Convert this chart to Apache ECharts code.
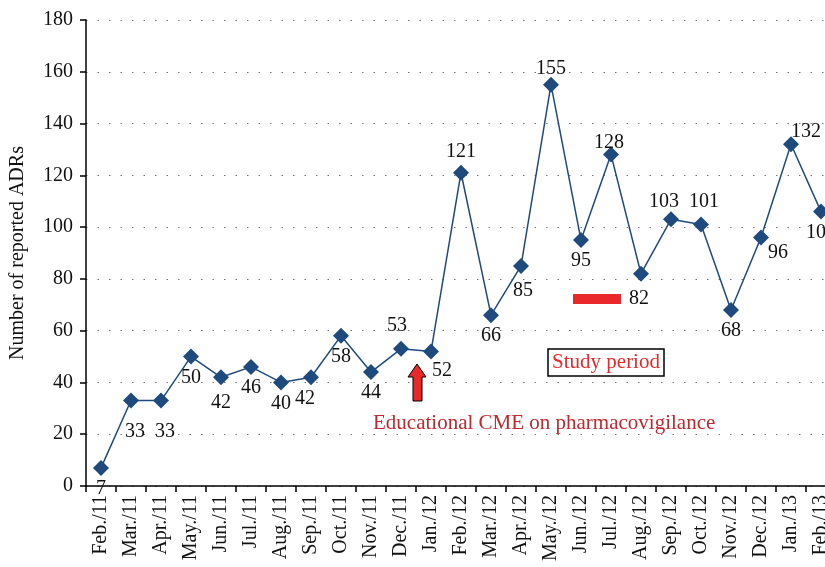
<!DOCTYPE html>
<html lang="en">
    <head>
        <meta charset="UTF-8">
        <title>Reported ADRs</title>
        <style>
            html, body { margin: 0; padding: 0; background: #fff; overflow: hidden; width: 825px; height: 567px; }
        </style>
    </head>
    <body>
        <div id="main" style="width: 845px;height:567px;"></div>
        <script src="https://cdn.jsdelivr.net/npm/echarts@6/dist/echarts.min.js"></script>
        <script type="text/javascript">
            // monthly reports
            const months = ['Feb./11','Mar./11','Apr./11','May./11','Jun./11','Jul./11','Aug./11','Sep./11','Oct./11','Nov./11','Dec./11',
                            'Jan./12','Feb./12','Mar./12','Apr./12','May./12','Jun./12','Jul./12','Aug./12','Sep./12','Oct./12','Nov./12','Dec./12',
                            'Jan./13','Feb./13']
            const adrs = [7,33,33,50,42,46,40,42,58,44,53,52,121,66,85,155,95,128,82,103,101,68,96,132,106]
            const yTicks = [0,20,40,60,80,100,120,140,160,180]

            // where each value label sits (b = below, t = above), plus small nudges
            const labelSide = ['b','b','b','b','b','b','b','b','b','b','t','b','t','b','b','t','b','t','b','t','t','b','b','t','b']
            const labelShift = {1:[4,10], 2:[4,10], 4:[0,4], 7:[-6,0], 10:[-4,-2], 11:[11,-2], 14:[2,4], 15:[0,5],
                                17:[-2,9], 18:[-2,4], 19:[-7,3], 20:[3,-2], 22:[17,-6], 23:[15,8]}

            const font = 'Liberation Serif'
            const blue = '#1f4a7e'
            const red = '#e8282a'

            let container = document.getElementById('main')
            var myChart = echarts.init(container)

            let data = adrs.map((v, i) => {
                let lbl = { position: labelSide[i] == 't' ? 'top' : 'bottom' }
                if (labelShift[i]) lbl.offset = labelShift[i]
                return { value: v, label: lbl }
            })

            var option = {
                animation: false,
                textStyle: { fontFamily: font },
                grid: { left: 86, top: 20, width: 750, bottom: 81, containLabel: false },
                xAxis: {
                    type: 'category',
                    data: months,
                    boundaryGap: true,
                    axisLine: { lineStyle: { color: '#000', width: 1.5 } },
                    axisTick: { show: true, length: 6, lineStyle: { color: '#000', width: 1.5 } },
                    axisLabel: { rotate: 90, color: '#111', fontSize: 20, margin: 9, fontFamily: font, interval: 0 },
                    splitLine: { show: false }
                },
                yAxis: {
                    type: 'value',
                    min: yTicks[0],
                    max: yTicks[yTicks.length - 1],
                    interval: 20,
                    name: 'Number of reported ADRs',
                    nameLocation: 'middle',
                    nameGap: 58,
                    nameTextStyle: { fontSize: 20, color: '#111', fontFamily: font },
                    axisLine: { show: true, lineStyle: { color: '#000', width: 1.5 } },
                    axisTick: { show: true, length: 6, lineStyle: { color: '#000', width: 1.5 } },
                    axisLabel: { color: '#111', fontSize: 20, margin: 13, fontFamily: font },
                    splitLine: { show: true, lineStyle: { color: '#777', width: 1, type: [1.5, 10] } }
                },
                series: [
                    {
                        type: 'line',
                        data,
                        symbol: 'diamond',
                        symbolSize: 16,
                        itemStyle: { color: blue },
                        lineStyle: { color: blue, width: 1.5 },
                        label: { show: true, color: '#111', fontSize: 20, fontFamily: font, distance: 3 }
                    }
                ],
                graphic: [
                    {
                        type: 'rect',
                        shape: { x: 573, y: 294, width: 48, height: 10 },
                        style: { fill: red },
                        z: 10
                    },
                    {
                        type: 'polygon',
                        shape: { points: [[417,364],[426,377],[422,377],[422,401],[413,401],[413,377],[408,377]] },
                        style: { fill: red, stroke: '#000', lineWidth: 1 },
                        z: 10
                    },
                    {
                        type: 'rect',
                        shape: { x: 548, y: 349, width: 116, height: 27 },
                        style: { fill: '#fff', stroke: '#000', lineWidth: 1.5 },
                        z: 10
                    },
                    {
                        type: 'text',
                        x: 606, y: 362,
                        style: { text: 'Study period', fill: red, font: '21px "Liberation Serif"', align: 'center', verticalAlign: 'middle' },
                        z: 11
                    },
                    {
                        type: 'text',
                        x: 373, y: 423,
                        style: { text: 'Educational CME on pharmacovigilance', fill: '#c1272d', font: '21px "Liberation Serif"', align: 'left', verticalAlign: 'middle' },
                        z: 11
                    }
                ]
            }
            myChart.setOption(option)
        </script>
    </body>
</html>
